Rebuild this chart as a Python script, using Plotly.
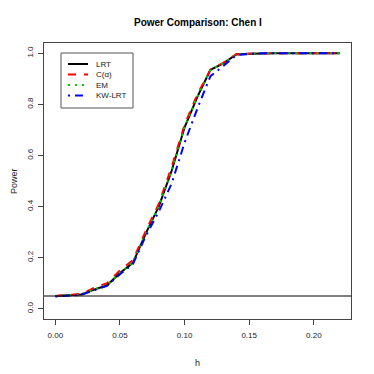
import plotly.graph_objects as go

h = [0.00, 0.01, 0.02, 0.03, 0.04, 0.05, 0.06, 0.07, 0.08, 0.09, 0.10, 0.11,
     0.12, 0.13, 0.14, 0.15, 0.16, 0.17, 0.18, 0.19, 0.20, 0.21, 0.22]

lrt = [0.050, 0.052, 0.056, 0.075, 0.092, 0.140, 0.180, 0.295, 0.400, 0.540, 0.710, 0.830,
       0.935, 0.960, 0.995, 0.998, 1.000, 1.000, 1.000, 1.000, 1.000, 1.000, 1.000]
calpha = [0.050, 0.053, 0.058, 0.082, 0.100, 0.150, 0.190, 0.305, 0.410, 0.555, 0.720, 0.840,
          0.935, 0.962, 0.996, 0.998, 1.000, 1.000, 1.000, 1.000, 1.000, 1.000, 1.000]
em = [0.050, 0.052, 0.056, 0.076, 0.093, 0.141, 0.181, 0.296, 0.401, 0.541, 0.711, 0.831,
      0.935, 0.960, 0.995, 0.998, 1.000, 1.000, 1.000, 1.000, 1.000, 1.000, 1.000]
kwlrt = [0.048, 0.050, 0.054, 0.072, 0.090, 0.135, 0.175, 0.285, 0.380, 0.490, 0.650, 0.785,
         0.910, 0.950, 0.993, 0.997, 1.000, 1.000, 1.000, 1.000, 1.000, 1.000, 1.000]

alpha_level = 0.05

x_ticks = [0.00, 0.05, 0.10, 0.15, 0.20]
x_labels = ["0.00", "0.05", "0.10", "0.15", "0.20"]
y_ticks = [0.0, 0.2, 0.4, 0.6, 0.8, 1.0]
y_labels = ["0.0", "0.2", "0.4", "0.6", "0.8", "1.0"]

series = [
    ("LRT", lrt, "black", "solid"),
    ("C(α)", calpha, "red", "8px,8px"),
    ("EM", em, "#00cd00", "2px,5px"),
    ("KW-LRT", kwlrt, "blue", "2px,5px,8px,5px"),
]

font = "Liberation Sans, Arial, sans-serif"

# the page body has an 8px margin, so the figure is drawn 8px in from the corner
OFF = 8
SIZE = 374 - OFF
# plot area in window pixels (R style margins)
L, R, T, B = 44, 351, 43, 319


def px(x):
    return (x - L) / (R - L)


def py(y):
    return (B - y) / (B - T)


fig = go.Figure()
for name, vals, col, dash in series:
    fig.add_trace(go.Scatter(x=h, y=vals, name=name, mode="lines",
                             line=dict(color=col, width=2, dash=dash),
                             showlegend=False))

fig.add_shape(type="line", xref="paper", yref="y", x0=0, x1=1,
              y0=alpha_level, y1=alpha_level, line=dict(color="black", width=1))

# legend drawn by hand, R style
fig.add_shape(type="rect", xref="paper", yref="paper",
              x0=px(61), x1=px(133), y0=py(53), y1=py(108),
              line=dict(color="#555", width=1), fillcolor="white", layer="above")
rows = [64, 74.5, 85, 95.5]
for (name, vals, col, dash), yy in zip(series, rows):
    fig.add_shape(type="line", xref="paper", yref="paper",
                  x0=px(68), x1=px(88), y0=py(yy), y1=py(yy),
                  line=dict(color=col, width=2, dash=dash), layer="above")
    fig.add_annotation(text=name, xref="paper", yref="paper", x=px(94), y=py(yy),
                       xanchor="left", yanchor="middle", showarrow=False,
                       font=dict(size=8, color="#222"))

fig.add_annotation(text="<b>Power Comparison: Chen I</b>", xref="paper", yref="paper",
                   x=px(197.5), y=py(23), xanchor="center", yanchor="middle",
                   showarrow=False, font=dict(size=10, color="black"))
fig.add_annotation(text="h", xref="paper", yref="paper", x=px(197.5), y=py(363),
                   xanchor="center", yanchor="middle", showarrow=False,
                   font=dict(size=9, color="#222"))
fig.add_annotation(text="Power", xref="paper", yref="paper", x=px(14), y=py(181),
                   xanchor="center", yanchor="middle", showarrow=False, textangle=-90,
                   font=dict(size=9, color="#222"))

axis_common = dict(showline=True, mirror=True, linecolor="#444", linewidth=1,
                   ticks="outside", ticklen=5, tickcolor="#444", showgrid=False,
                   zeroline=False, automargin=False, tickfont=dict(size=8, color="#222"))

fig.update_layout(
    width=SIZE, height=SIZE,
    margin=dict(l=L - OFF, r=374 - R, t=T - OFF, b=374 - B),
    plot_bgcolor="white", paper_bgcolor="white",
    font=dict(family=font, color="#222"),
    xaxis=dict(range=[-0.0088, 0.2288], tickvals=x_ticks, ticktext=x_labels,
               ticklabelstandoff=3, **axis_common),
    yaxis=dict(range=[-0.04, 1.04], tickvals=y_ticks, ticktext=y_labels, tickangle=-90,
               ticklabelstandoff=2, **axis_common),
    showlegend=False,
)

fig.write_html("out.html")
